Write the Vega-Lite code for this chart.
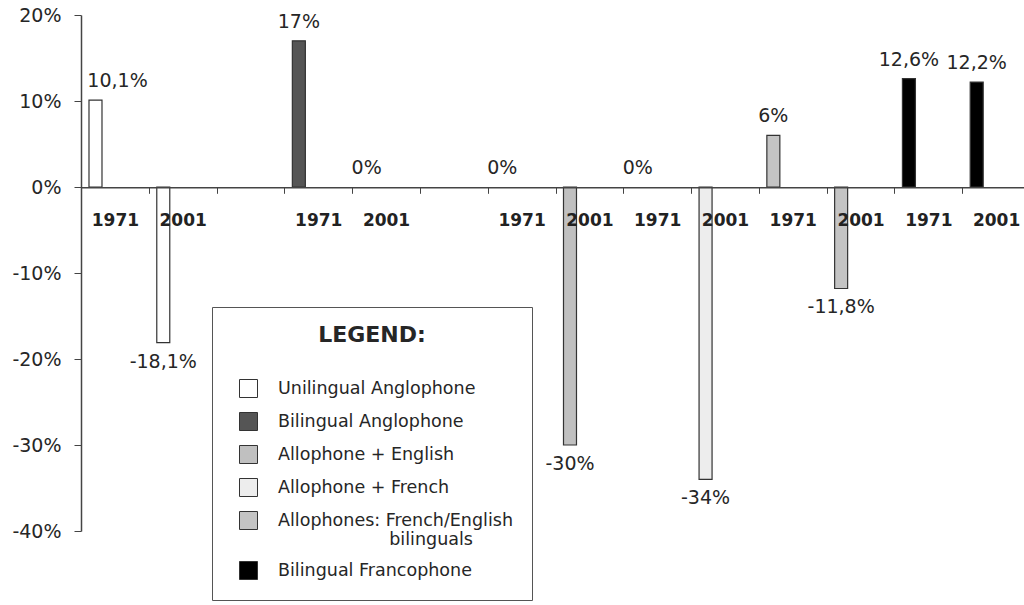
{
  "$schema": "https://vega.github.io/schema/vega-lite/v6.json",
  "autosize": {"type": "none"},
  "width": 943,
  "height": 516,
  "padding": {"left": 81, "top": 15, "right": 0, "bottom": 74},
  "background": "white",
  "config": {
    "view": {"stroke": null},
    "font": "DejaVu Sans"
  },
  "data": {
    "values": [
      {"slot": "Unilingual Anglophone 1971", "group": "Unilingual Anglophone", "value": 10.1, "label": "10,1%"},
      {"slot": "Unilingual Anglophone 2001", "group": "Unilingual Anglophone", "value": -18.1, "label": "-18,1%"},
      {"slot": "Bilingual Anglophone 1971", "group": "Bilingual Anglophone", "value": 17, "label": "17%"},
      {"slot": "Bilingual Anglophone 2001", "group": "Bilingual Anglophone", "value": 0, "label": "0%"},
      {"slot": "Allophone + English 1971", "group": "Allophone + English", "value": 0, "label": "0%"},
      {"slot": "Allophone + English 2001", "group": "Allophone + English", "value": -30, "label": "-30%"},
      {"slot": "Allophone + French 1971", "group": "Allophone + French", "value": 0, "label": "0%"},
      {"slot": "Allophone + French 2001", "group": "Allophone + French", "value": -34, "label": "-34%"},
      {"slot": "Allophones: French/English bilinguals 1971", "group": "Allophones: French/English bilinguals", "value": 6, "label": "6%"},
      {"slot": "Allophones: French/English bilinguals 2001", "group": "Allophones: French/English bilinguals", "value": -11.8, "label": "-11,8%"},
      {"slot": "Bilingual Francophone 1971", "group": "Bilingual Francophone", "value": 12.6, "label": "12,6%"},
      {"slot": "Bilingual Francophone 2001", "group": "Bilingual Francophone", "value": 12.2, "label": "12,2%"}
    ]
  },
  "encoding": {
    "x": {
      "field": "slot",
      "type": "nominal",
      "sort": null,
      "scale": {
        "domain": [
          "Unilingual Anglophone 1971", "Unilingual Anglophone 2001", "gap one",
          "Bilingual Anglophone 1971", "Bilingual Anglophone 2001", "gap two",
          "Allophone + English 1971", "Allophone + English 2001",
          "Allophone + French 1971", "Allophone + French 2001",
          "Allophones: French/English bilinguals 1971", "Allophones: French/English bilinguals 2001",
          "Bilingual Francophone 1971", "Bilingual Francophone 2001"
        ],
        "range": [0, 949],
        "paddingInner": 0,
        "paddingOuter": 0
      },
      "axis": {
        "title": null,
        "orient": "bottom",
        "offset": -343.7,
        "zindex": 1,
        "tickBand": "extent",
        "labelAngle": 0,
        "labelExpr": "indexof(datum.label, 'gap') >= 0 ? '' : slice(datum.label, -4)",
        "labelFont": "DejaVu Sans",
        "labelFontSize": 17,
        "labelFontWeight": "bold",
        "labelColor": "#222222",
        "labelPadding": 19,
        "tickSize": 6,
        "tickColor": "#444444",
        "domainColor": "#444444",
        "domainWidth": 1.5,
        "labelOverlap": false
      }
    },
    "y": {
      "field": "value",
      "type": "quantitative",
      "scale": {"domain": [-40, 20], "nice": false, "zero": false},
      "axis": {
        "title": null,
        "values": [-40, -30, -20, -10, 0, 10, 20],
        "labelExpr": "datum.value + '%'",
        "grid": false,
        "labelFont": "DejaVu Sans",
        "labelFontSize": 19,
        "labelColor": "#262626",
        "labelPadding": 13,
        "tickSize": 7,
        "tickColor": "#444444",
        "domainColor": "#444444",
        "domainWidth": 1.5
      }
    }
  },
  "layer": [
    {
      "transform": [{"filter": "datum.value != 0"}],
      "mark": {"type": "bar", "width": 13, "xOffset": -19.4, "stroke": "#333333", "strokeWidth": 1.2},
      "encoding": {
        "fill": {
          "field": "group",
          "type": "nominal",
          "scale": {
            "domain": ["Unilingual Anglophone", "Bilingual Anglophone", "Allophone + English", "Allophone + French", "Allophones: French/English bilinguals", "Bilingual Francophone"],
            "range": ["#ffffff", "#555555", "#c0c0c0", "#ededed", "#c4c4c4", "#000000"]
          },
          "legend": {
            "title": "LEGEND:",
            "orient": "none",
            "legendX": 131,
            "legendY": 292,
            "direction": "vertical",
            "padding": 18,
            "strokeColor": "#555555",
            "fillColor": "#ffffff",
            "titleFont": "DejaVu Sans",
            "titleFontSize": 22,
            "titleFontWeight": "bold",
            "titleColor": "#262626",
            "titleAnchor": "middle",
            "titlePadding": 32,
            "symbolType": "square",
            "symbolSize": 324,
            "symbolOffset": 9,
            "symbolStrokeColor": "#333333",
            "symbolStrokeWidth": 1,
            "labelFont": "DejaVu Sans",
            "labelFontSize": 17.5,
            "labelColor": "#262626",
            "labelOffset": 20,
            "labelLimit": 400,
            "rowPadding": 10,
            "labelExpr": "datum.label == 'Allophones: French/English bilinguals' ? ['Allophones: French/English', '\u200b\u00a0\u00a0\u00a0\u00a0\u00a0\u00a0\u00a0\u00a0\u00a0\u00a0\u00a0\u00a0\u00a0\u00a0\u00a0\u00a0\u00a0\u00a0\u00a0\u00a0bilinguals'] : datum.label"
          }
        }
      }
    },
    {
      "transform": [{"filter": "datum.value >= 0 && datum.slot != 'Unilingual Anglophone 1971'"}],
      "mark": {"type": "text", "xOffset": -19.4, "dy": -13, "baseline": "alphabetic", "align": "center", "font": "DejaVu Sans", "fontSize": 19, "color": "#262626"},
      "encoding": {"text": {"field": "label"}}
    },
    {
      "transform": [{"filter": "datum.slot == 'Unilingual Anglophone 1971'"}],
      "mark": {"type": "text", "xOffset": 2.6, "dy": -13, "baseline": "alphabetic", "align": "center", "font": "DejaVu Sans", "fontSize": 19, "color": "#262626"},
      "encoding": {"text": {"field": "label"}}
    },
    {
      "transform": [{"filter": "datum.value < 0"}],
      "mark": {"type": "text", "xOffset": -19.4, "dy": 10, "baseline": "top", "align": "center", "font": "DejaVu Sans", "fontSize": 19, "color": "#262626"},
      "encoding": {"text": {"field": "label"}}
    }
  ]
}
